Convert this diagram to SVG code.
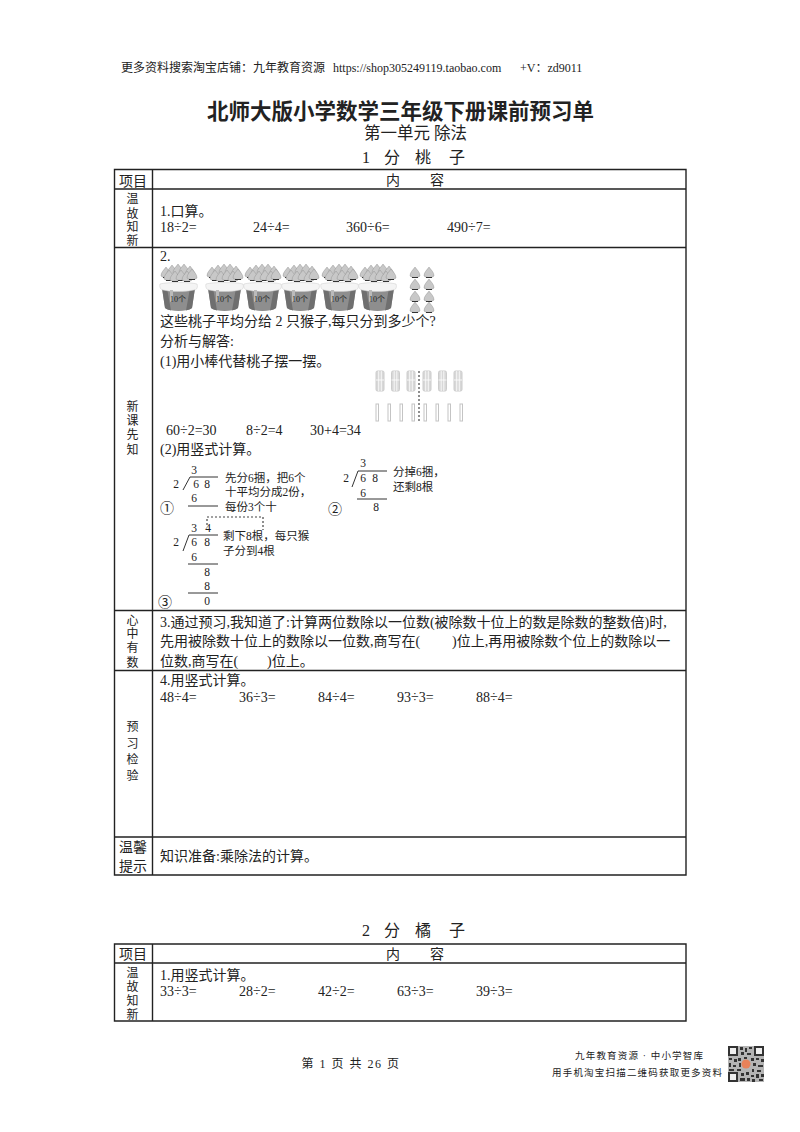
<svg xmlns="http://www.w3.org/2000/svg" width="800" height="1132" viewBox="0 0 800 1132">
<style>
text{font-family:"Liberation Serif","Noto Sans CJK SC",serif;fill:#222}
.s{font-family:"Noto Sans CJK SC","Liberation Sans",sans-serif}
.t{font-size:14px}
.h{font-size:12px;text-anchor:middle}
.g{font-size:14px;text-anchor:middle}
.c{font-size:14px}
.n{font-size:11.5px;text-anchor:middle}
.a{font-size:11.5px}
.f{font-size:16px}
.l{stroke:#222;stroke-width:1.4;fill:none}
.m{stroke:#333;stroke-width:1;fill:none}
.d{stroke:#444;stroke-width:1.2;stroke-dasharray:2 2;fill:none}
</style>
<defs>
<g id="peach"><path d="M0-6C2-3 5-1 5 3C3 5-3 5-5 3C-5-1-2-3 0-6Z" fill="#c8c8c8" stroke="#888" stroke-width=".4"/><path d="M-3 4.500H3" stroke="#333" stroke-width="1"/></g>
<g id="basket">
<use href="#peach" x="6" y="9"/><use href="#peach" x="12" y="7"/><use href="#peach" x="18" y="6"/><use href="#peach" x="24" y="6"/><use href="#peach" x="30" y="8"/>
<use href="#peach" x="9" y="12"/><use href="#peach" x="15" y="13"/><use href="#peach" x="21" y="12"/><use href="#peach" x="27" y="13"/><use href="#peach" x="32" y="11"/>
<path d="M2 24H35L32 44C26 48 11 48 5 44Z" fill="#8e8e8e"/>
<path d="M2 24L5 44C7 45.500 9 46 11 46.500L7 24ZM35 24L32 44C30 45.500 28 46 26 46.500L30 24Z" fill="#6f6f6f"/>
<path d="M0 20C6 18 31 18 37 20C38 23 37 26 34 26C24 28 13 28 3 26C1 26-1 23 0 20Z" fill="#f4f4f4" stroke="#ccc" stroke-width=".5"/>
<rect x="10" y="26" width="3" height="12" fill="#bbb"/>
<text x="18" y="38" font-size="8" text-anchor="middle">10个</text>
</g>
<g id="bundle"><rect width="8" height="20" rx="1.500" fill="#d8d8d8" stroke="#ccc"/><path d="M2.700 0V20M5.300 0V20M0 9H8" stroke="#fff" stroke-width=".8"/></g>
<rect id="stick" width="2.500" height="17" fill="#fff" stroke="#c4c4c4"/>
</defs>
<rect width="800" height="1132" fill="#fff"/>
<g id="connectors">
<path class="l" d="M114.500 169.500H686V875H114.500ZM152.500 169.500V875M114.500 189H686M114.500 247.500H686M114.500 610.500H686M114.500 670.500H686M114.500 837H686"/>
<path class="l" d="M114.500 944H686V1021H114.500ZM152.500 944V1021M114.500 963H686"/>
</g>
<g id="header">
<text x="121" y="72" font-size="12">更多资料搜索淘宝店铺：九年教育资源</text><text x="333" y="72" font-size="12">https://shop305249119.taobao.com</text><text x="520" y="72" font-size="12">+V：zd9011</text>
<text x="400.500" y="119" font-size="21.500" font-weight="700" text-anchor="middle" class="s">北师大版小学数学三年级下册课前预习单</text>
<text x="415.500" y="139" font-size="16.500" text-anchor="middle">第一单元 除法</text>
<text class="f" x="362" y="163">1</text><text class="f" x="384" y="163">分</text><text class="f" x="415" y="163">桃</text><text class="f" x="449" y="163">子</text>
</g>
<g id="table1-head">
<text class="g" x="133" y="186">项目</text>
<text class="g" x="393" y="185">内</text><text class="g" x="437" y="185">容</text>
</g>
<g id="wengu">
<text class="h" x="132.500" y="203">温</text><text class="h" x="132.500" y="217.500">故</text><text class="h" x="132.500" y="231">知</text><text class="h" x="132.500" y="244.500">新</text>
<text class="t" x="160" y="216">1.口算。</text>
<text class="c" x="160" y="232">18÷2=</text><text class="c" x="253" y="232">24÷4=</text><text class="c" x="346" y="232">360÷6=</text><text class="c" x="447" y="232">490÷7=</text>
</g>
<g id="xinke">
<text class="h" x="132.500" y="411">新</text><text class="h" x="132.500" y="425">课</text><text class="h" x="132.500" y="439">先</text><text class="h" x="132.500" y="454">知</text>
<text class="t" x="160" y="261">2.</text>
<use href="#basket" x="160" y="264"/><use href="#basket" x="206" y="264"/><use href="#basket" x="244" y="264"/><use href="#basket" x="282" y="264"/><use href="#basket" x="321" y="264"/><use href="#basket" x="359" y="264"/>
<g><use href="#peach" x="415" y="273"/><use href="#peach" x="429" y="273"/><use href="#peach" x="415" y="285"/><use href="#peach" x="429" y="285"/><use href="#peach" x="415" y="297"/><use href="#peach" x="429" y="297"/><use href="#peach" x="415" y="308"/><use href="#peach" x="429" y="308"/></g>
<text class="t" x="160" y="326">这些桃子平均分给 2 只猴子,每只分到多少个?</text>
<text class="t" x="160" y="346">分析与解答:</text>
<text class="t" x="160" y="366">(1)用小棒代替桃子摆一摆。</text>
<use href="#bundle" x="376" y="371"/><use href="#bundle" x="391.500" y="371"/><use href="#bundle" x="407" y="371"/><use href="#bundle" x="423" y="371"/><use href="#bundle" x="438.500" y="371"/><use href="#bundle" x="454" y="371"/>
<use href="#stick" x="376" y="404"/><use href="#stick" x="388" y="404"/><use href="#stick" x="400" y="404"/><use href="#stick" x="412" y="404"/><use href="#stick" x="424" y="404"/><use href="#stick" x="436" y="404"/><use href="#stick" x="448" y="404"/><use href="#stick" x="460" y="404"/>
<path class="d" d="M419 371V421"/>
<text class="t" x="166" y="435">60÷2=30</text><text class="t" x="246" y="435">8÷2=4</text><text class="t" x="310" y="435">30+4=34</text>
<text class="t" x="160" y="454">(2)用竖式计算。</text>
<g id="calc1">
<text class="n" x="194" y="474">3</text><text class="n" x="176" y="488">2</text><text class="n" x="196" y="488">6</text><text class="n" x="207" y="488">8</text><text class="n" x="194" y="502">6</text>
<path class="m" d="M183 490L190 477H218M188 506H218"/>
<text x="160" y="513" font-size="14">①</text>
<text class="a" x="225" y="482">先分6捆，把6个</text><text class="a" x="225" y="496">十平均分成2份，</text><text class="a" x="225" y="511">每份3个十</text>
</g>
<g id="calc2">
<text class="n" x="363" y="467">3</text><text class="n" x="346" y="482">2</text><text class="n" x="363" y="482">6</text><text class="n" x="375" y="482">8</text><text class="n" x="363" y="497">6</text><text class="n" x="376" y="511">8</text>
<path class="m" d="M352 487L358 471H387M357 499H387"/>
<text x="328" y="514" font-size="14">②</text>
<text class="a" x="393" y="476">分掉6捆，</text><text class="a" x="393" y="491">还剩8根</text>
</g>
<g id="calc3">
<text class="n" x="194" y="532">3</text><text class="n" x="208" y="532">4</text><text class="n" x="176" y="546">2</text><text class="n" x="194" y="546">6</text><text class="n" x="207" y="546">8</text><text class="n" x="194" y="561">6</text><text class="n" x="207" y="576">8</text><text class="n" x="207" y="590">8</text><text class="n" x="207" y="605">0</text>
<path class="m" d="M183 551L189 535H218M188 564H218M188 593H218"/>
<path class="d" d="M207 525V517H263V530"/>
<text x="158" y="607" font-size="14">③</text>
<text class="a" x="223" y="540">剩下8根，每只猴</text><text class="a" x="223" y="555">子分到4根</text>
</g>
</g>
<g id="xinzhong">
<text class="h" x="132.500" y="625">心</text><text class="h" x="132.500" y="638">中</text><text class="h" x="132.500" y="652">有</text><text class="h" x="132.500" y="667">数</text>
<text class="t" x="160" y="627">3.通过预习,我知道了:计算两位数除以一位数(被除数十位上的数是除数的整数倍)时,</text>
<text class="t" x="160" y="646">先用被除数十位上的数除以一位数,商写在(<tspan x="452">)位上,再用被除数个位上的数除以一</tspan></text>
<text class="t" x="160" y="666">位数,商写在(<tspan x="267">)位上。</tspan></text>
</g>
<g id="yuxi">
<text class="h" x="132.500" y="731">预</text><text class="h" x="132.500" y="748">习</text><text class="h" x="132.500" y="764">检</text><text class="h" x="132.500" y="780">验</text>
<text class="t" x="160" y="685">4.用竖式计算。</text>
<text class="c" x="160" y="702">48÷4=</text><text class="c" x="239" y="702">36÷3=</text><text class="c" x="318" y="702">84÷4=</text><text class="c" x="397" y="702">93÷3=</text><text class="c" x="476" y="702">88÷4=</text>
</g>
<g id="wenxin">
<text class="g" x="133" y="852">温馨</text><text class="g" x="133" y="871">提示</text>
<text class="t" x="160" y="861">知识准备:乘除法的计算。</text>
</g>
<g id="table2">
<text class="f" x="362" y="936">2</text><text class="f" x="384" y="936">分</text><text class="f" x="415" y="936">橘</text><text class="f" x="449" y="936">子</text>
<text class="g" x="133" y="959">项目</text>
<text class="g" x="393" y="959">内</text><text class="g" x="437" y="959">容</text>
<text class="h" x="132.500" y="977">温</text><text class="h" x="132.500" y="991">故</text><text class="h" x="132.500" y="1005">知</text><text class="h" x="132.500" y="1019">新</text>
<text class="t" x="160" y="980">1.用竖式计算。</text>
<text class="c" x="160" y="996">33÷3=</text><text class="c" x="239" y="996">28÷2=</text><text class="c" x="318" y="996">42÷2=</text><text class="c" x="397" y="996">63÷3=</text><text class="c" x="476" y="996">39÷3=</text>
</g>
<g id="footer">
<text x="351" y="1068" font-size="12" text-anchor="middle" letter-spacing="1.500">第 1 页 共 26 页</text>
<text x="575" y="1059" font-size="9.500" textLength="128" fill="#444">九年教育资源 · 中小学智库</text>
<text x="552" y="1076" font-size="9.500" textLength="170" fill="#444">用手机淘宝扫描二维码获取更多资料</text>
<g id="qr">
<rect x="728" y="1046" width="36" height="36" fill="#b4b4b4"/>
<path d="M728 1046h10v10h-10zM754 1046h10v10h-10zM728 1072h10v10h-10z" fill="#333"/>
<path d="M730 1048h6v6h-6zM756 1048h6v6h-6zM730 1074h6v6h-6z" fill="#eee"/>
<path d="M740 1047h3v3h-3zM745 1048h2v4h-2zM749 1047h3v2h-3zM741 1052h3v3h-3zM747 1053h4v2h-4zM729 1058h3v2h-3zM734 1059h3v3h-3zM729 1063h2v4h-2zM733 1065h3v2h-3zM738 1058h3v3h-3zM739 1063h2v4h-2zM729 1069h5v2h-5zM737 1069h4v2h-4zM744 1057h3v2h-3zM751 1058h3v3h-3zM756 1058h3v2h-3zM761 1059h3v3h-3zM753 1063h3v3h-3zM758 1065h5v2h-5zM752 1069h2v3h-2zM757 1070h4v2h-4zM741 1073h3v3h-3zM746 1072h3v3h-3zM751 1075h3v2h-3zM756 1074h3v4h-3zM761 1074h3v3h-3zM740 1078h5v3h-5zM747 1078h3v3h-3zM752 1079h3v3h-3zM759 1079h4v2h-4z" fill="#333"/>
<circle cx="746" cy="1064" r="4.500" fill="#e9825a"/>
</g>
</g>
</svg>
